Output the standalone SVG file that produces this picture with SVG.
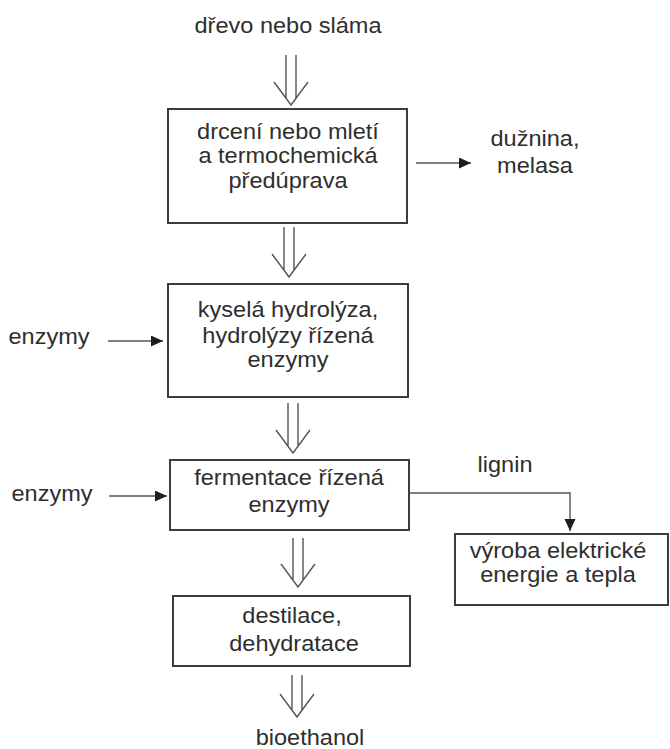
<svg xmlns="http://www.w3.org/2000/svg" width="670" height="749" viewBox="0 0 670 749">
<style>
.box{fill:#fff;stroke:#3c3c3c;stroke-width:2}
.t{font-family:"Liberation Sans",Arial,sans-serif;font-size:22px;fill:#2e2e2e;text-anchor:middle}
.dbl{fill:none;stroke:#555;stroke-width:1.4}
.ln{fill:none;stroke:#555;stroke-width:1.4}
</style>
<defs>
<marker id="ah" markerUnits="userSpaceOnUse" markerWidth="13" markerHeight="12" refX="12" refY="5.5" orient="auto">
<path d="M0,0 L12,5.5 L0,11 Z" fill="#1e1e1e"/>
</marker>
</defs>
<rect width="670" height="749" fill="#fff"/>

<g id="input">
<text class="t" transform="translate(288 33) scale(1.07 1)">dřevo nebo sláma</text>
</g>

<g id="box1">
<rect class="box" x="168" y="109" width="239" height="114"/>
<text class="t" transform="translate(288 139) scale(1.07 1)">drcení nebo mletí</text>
<text class="t" transform="translate(288 163) scale(1.07 1)">a termochemická</text>
<text class="t" transform="translate(288 188) scale(1.07 1)">předúprava</text>
</g>

<g id="out1">
<text class="t" transform="translate(535 146) scale(1.07 1)">dužnina,</text>
<text class="t" transform="translate(535 173) scale(1.07 1)">melasa</text>
</g>

<g id="enz1">
<text class="t" transform="translate(49 344) scale(1.07 1)">enzymy</text>
</g>

<g id="box2">
<rect class="box" x="168" y="284" width="240" height="113"/>
<text class="t" transform="translate(288 317) scale(1.07 1)">kyselá hydrolýza,</text>
<text class="t" transform="translate(288 343) scale(1.07 1)">hydrolýzy řízená</text>
<text class="t" transform="translate(288 367) scale(1.07 1)">enzymy</text>
</g>

<g id="enz2">
<text class="t" transform="translate(52 501) scale(1.07 1)">enzymy</text>
</g>

<g id="box3">
<rect class="box" x="170" y="460" width="239" height="70"/>
<text class="t" transform="translate(289 485) scale(1.07 1)">fermentace řízená</text>
<text class="t" transform="translate(289 512) scale(1.07 1)">enzymy</text>
</g>

<g id="lignin">
<text class="t" transform="translate(505 472) scale(1.07 1)">lignin</text>
</g>

<g id="box4">
<rect class="box" x="455" y="534" width="213" height="71"/>
<text class="t" transform="translate(558 558) scale(1.07 1)">výroba elektrické</text>
<text class="t" transform="translate(558 582) scale(1.07 1)">energie a tepla</text>
</g>

<g id="box5">
<rect class="box" x="173" y="596" width="237" height="70"/>
<text class="t" transform="translate(292 623) scale(1.07 1)">destilace,</text>
<text class="t" transform="translate(294 651) scale(1.07 1)">dehydratace</text>
</g>

<g id="output">
<text class="t" transform="translate(310 745) scale(1.07 1)">bioethanol</text>
</g>

<g id="connectors">
<path class="dbl" d="M286,55 V98 M296,55 V98 M274,82 L291,105 L308,82"/>
<path class="dbl" d="M284,227 V270 M294,227 V270 M272,254 L289,277 L306,254"/>
<path class="dbl" d="M288,403 V446 M298,403 V446 M276,430 L293,453 L310,430"/>
<path class="dbl" d="M293,538 V580 M303,538 V580 M281,564 L298,587 L315,564"/>
<path class="dbl" d="M292,675 V710 M302,675 V710 M280,694 L297,717 L314,694"/>
<path class="ln" d="M416,163 H471" marker-end="url(#ah)"/>
<path class="ln" d="M108,341 H163" marker-end="url(#ah)"/>
<path class="ln" d="M109,496 H167" marker-end="url(#ah)"/>
<path class="ln" d="M409,493 H570 V531" marker-end="url(#ah)"/>
</g>
</svg>
